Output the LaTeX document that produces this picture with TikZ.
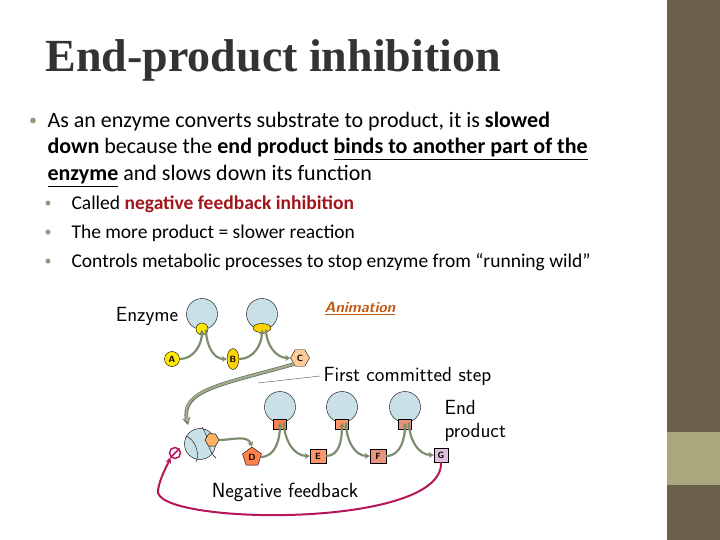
\documentclass[tikz,border=0pt]{standalone}
\usepackage{fontspec}
\setmainfont{Carlito}
\newfontfamily\titlefont{Liberation Serif}
\usetikzlibrary{shapes.geometric,arrows.meta}
\definecolor{barDark}{HTML}{6B614A}
\definecolor{barLight}{HTML}{A9A77B}
\definecolor{bulletCol}{HTML}{8C9A7A}
\definecolor{darkRed}{HTML}{A0161B}
\definecolor{enzBlue}{HTML}{C9E0E8}
\definecolor{stepGreen}{HTML}{9DB08A}
\definecolor{fbRed}{HTML}{B5165A}
\definecolor{linkOrange}{HTML}{C05A12}
\tikzset{
  enzyme/.style={circle,draw=black,fill=enzBlue,minimum size=31pt,inner sep=0pt},
  mol/.style={draw=black,inner sep=0pt,font=\sffamily\bfseries\fontsize{9}{10}\selectfont},
  stepArrow/.style={-{Stealth[length=5pt,width=6pt]},stepGreen!80!black,line width=2.2pt},
  bodyText/.style={anchor=west,font=\fontsize{22}{24}\selectfont},
  subText/.style={anchor=west,font=\fontsize{19.5}{22}\selectfont},
  figText/.style={font=\sffamily\fontsize{20.5}{23}\selectfont}
}
\begin{document}
\begin{tikzpicture}[x=1pt,y=-1pt]
\useasboundingbox (0,0) rectangle (720,540);
% side bar
\fill[barDark] (667,0) rectangle (720,540);
\fill[barLight] (667,432) rectangle (720,485);
% title and bullets
\node[anchor=west,font=\titlefont\bfseries\fontsize{46}{48}\selectfont,text=black!80] (title) at (42,60) {End-product inhibition};
\node[text=bulletCol,font=\fontsize{16}{18}\selectfont] (b0) at (33,122) {•};
\node[bodyText] (l1) at (44,122) {As an enzyme converts substrate to product, it is \textbf{slowed}};
\node[bodyText] (l2) at (44,149) {\textbf{down} because the \textbf{end product \underline{binds to another part of the}}};
\node[bodyText] (l3) at (44,176) {\textbf{\underline{enzyme}} and slows down its function};
\foreach \y/\t [count=\i] in {204/{Called \textbf{\textcolor{darkRed}{negative feedback inhibition}}},
    233/{The more product = slower reaction},
    262/{Controls metabolic processes to stop enzyme from “running wild”}} {
  \node[text=bulletCol,font=\fontsize{14}{16}\selectfont] (sb\i) at (48,\y) {•};
  \node[subText] (s\i) at (68,\y) {\t};
}
% figure
\node[anchor=south,font=\sffamily\bfseries\itshape\fontsize{15}{17}\selectfont,text=linkOrange] (anim) at (360,318) {\underline{Animation}};
\node[figText] (enzLbl) at (147,316) {Enzyme};
\node[enzyme] (e1) at (202,314) {};
\node[enzyme] (e2) at (262,314) {};
\node[circle,draw=black,fill=yellow!90!orange,minimum size=12pt,inner sep=0pt] (a1) at (202,329) {};
\node[ellipse,draw=black,fill=yellow!70!orange,minimum width=18pt,minimum height=9pt,inner sep=0pt] (a2) at (262,328) {};
\node[mol,circle,fill=yellow!90!orange,minimum size=15pt] (A) at (172,359) {A};
\node[mol,ellipse,fill=yellow!70!orange,minimum width=12pt,minimum height=21pt] (B) at (233,359) {B};
\node[mol,regular polygon,regular polygon sides=6,fill=orange!40,minimum size=19pt] (C) at (300,358) {C};
\draw[stepArrow] (A.east) to[out=0,in=-90] (e1.south);
\draw[stepArrow] ([xshift=4pt]e1.south) to[out=-90,in=180] (B.west);
\draw[stepArrow] (B.east) to[out=0,in=-90] (e2.south);
\draw[stepArrow] ([xshift=4pt]e2.south) to[out=-90,in=180] (C.west);
\node[figText,anchor=west] (first) at (320,376) {First committed step};
\coordinate (firstEnd) at (258,383);
\draw[black!70] (first.west) -- (firstEnd);
\draw[-{Stealth[length=7pt,width=8pt]},draw=black!60,line width=3.6pt] (C.south west) .. controls (220,385) and (180,390) .. (188,425);
\draw[-{Stealth[length=6pt,width=7pt]},stepGreen,line width=2.2pt] (C.south west) .. controls (220,385) and (180,390) .. (188,423);
\node[enzyme] (e3) at (200,444) {};
\draw[black] (186,436) .. controls (196,440) and (200,455) .. (196,462);
\draw[black] (202,427) .. controls (210,438) and (206,450) .. (216,458);
\node[mol,regular polygon,regular polygon sides=6,fill=orange!60,minimum size=14pt] (Cin) at (212,440) {};
\node[circle,draw=fbRed,line width=1.5pt,minimum size=11pt,inner sep=0pt] (stop) at (175,453) {};
\draw[fbRed,line width=1.5pt] (stop.north east) -- (stop.south west);
\node[mol,regular polygon,regular polygon sides=5,fill=orange!60!red!70,minimum size=20pt] (D) at (252,457) {D};
\node[mol,fill=orange!60!red!60,minimum width=16pt,minimum height=14pt] (E) at (318,456) {E};
\node[mol,fill=red!40!brown!60,minimum width=16pt,minimum height=14pt] (F) at (378,456) {F};
\node[mol,fill=violet!25,minimum size=14pt] (G) at (441,455) {G};
\foreach \n/\x/\c in {4/280/orange!60!red!70,5/342/orange!60!red!60,6/405/red!40!brown!60} {
  \node[enzyme] (e\n) at (\x,407) {};
  \node[draw=black,fill=\c,minimum width=13pt,minimum height=10pt,inner sep=0pt] (s\n) at (\x,424) {};
}
\draw[stepArrow] (Cin.east) to[out=0,in=110] (D.north);
\draw[stepArrow] (D.east) to[out=0,in=-90] (e4.south);
\draw[stepArrow] ([xshift=4pt]e4.south) to[out=-90,in=180] (E.west);
\draw[stepArrow] (E.east) to[out=0,in=-90] (e5.south);
\draw[stepArrow] ([xshift=4pt]e5.south) to[out=-90,in=180] (F.west);
\draw[stepArrow] (F.east) to[out=0,in=-90] (e6.south);
\draw[stepArrow] ([xshift=4pt]e6.south) to[out=-90,in=180] (G.west);
\node[figText,anchor=west,align=left] (endLbl) at (441,421) {End\\product};
\node[figText] (negLbl) at (285,492) {Negative feedback};
\draw[fbRed,line width=2pt,-{Stealth[length=6pt,width=6pt]}] (G.south) .. controls (445,530) and (150,525) .. (158,490) .. controls (160,478) and (166,468) .. (stop.south west);
\end{tikzpicture}
\end{document}
